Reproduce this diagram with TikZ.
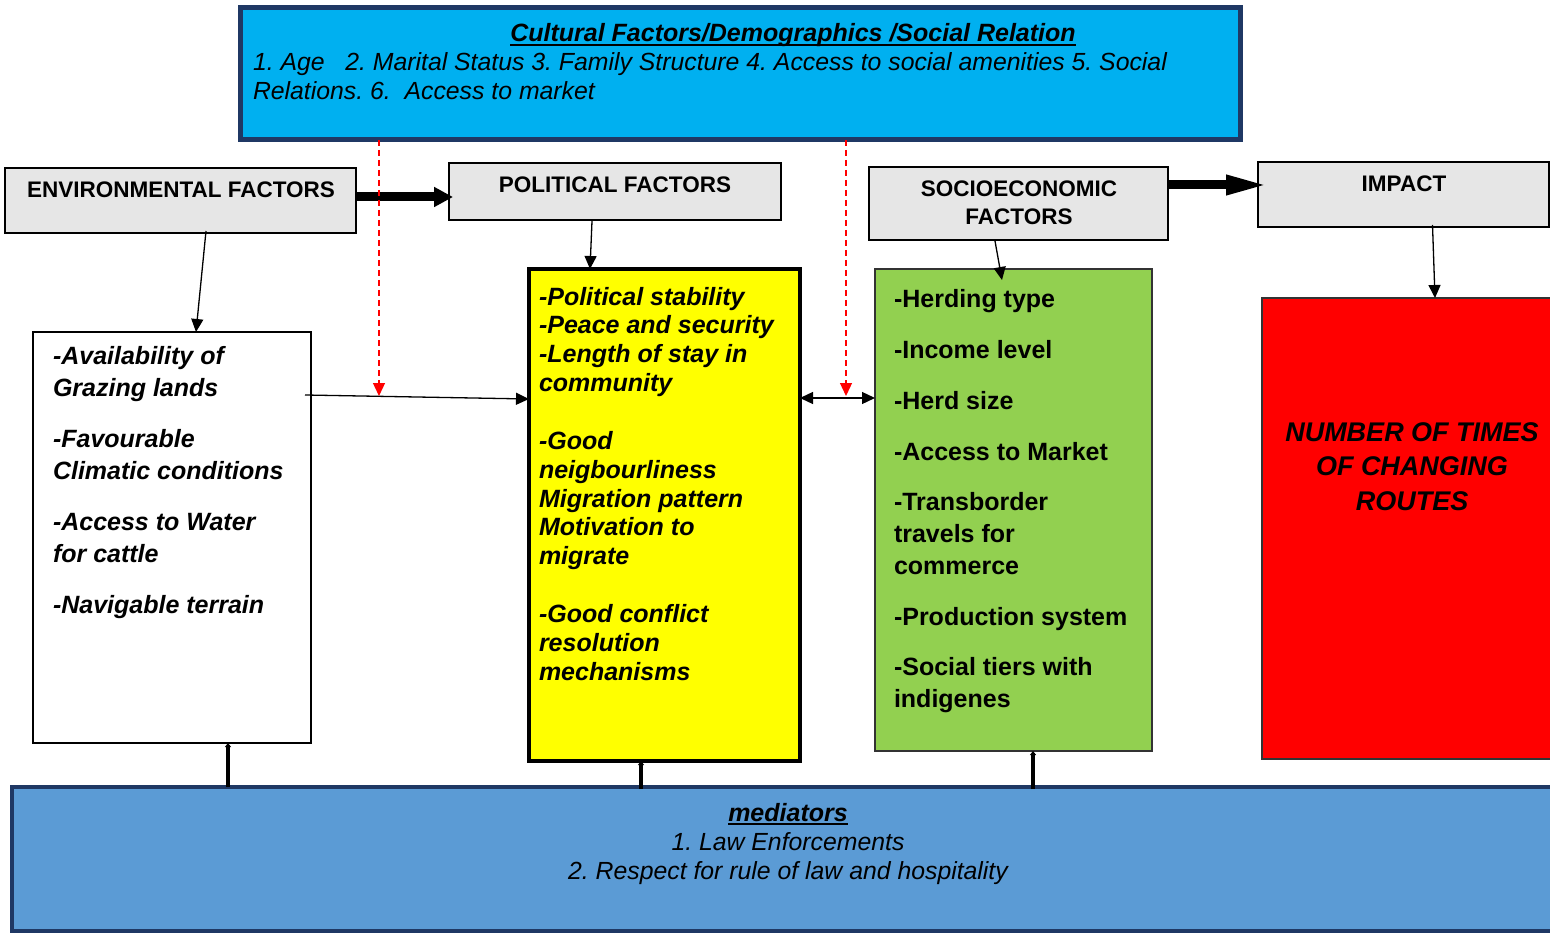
\documentclass[tikz,border=0pt]{standalone}
\usepackage{fontspec}
\setmainfont{Liberation Sans}
\usetikzlibrary{arrows.meta}
\definecolor{cyanbox}{HTML}{00B0F0}
\definecolor{navyline}{HTML}{1F3864}
\definecolor{bluebox}{HTML}{5B9BD5}
\definecolor{greenbox}{HTML}{92D050}
\definecolor{graybox}{HTML}{E6E6E6}
\definecolor{redbox}{HTML}{FF0000}
\definecolor{yellowbox}{HTML}{FFFF00}
\newcommand{\fsz}[2]{\fontsize{#1pt}{#2pt}\selectfont}
\frenchspacing
\begin{document}
\frenchspacing
\begin{tikzpicture}[x=1pt,y=-1pt,
  box/.style={draw, anchor=north west, inner sep=0pt, outer sep=0pt},
  hdr/.style={box, fill=graybox, line width=1.8pt},
  txt/.style={inner sep=0pt, outer sep=0pt, anchor=north west, align=left},
  hdrtxt/.style={inner sep=0pt, align=center, font=\fsz{22.5}{28}\bfseries},
  thinarrow/.style={line width=1.3pt, -{Triangle[length=13pt,width=12pt]}},
  dasharrow/.style={red, line width=1.3pt, dash pattern=on 6pt off 4pt, -{Triangle[length=13pt,width=12pt]}},
  bigarrow/.style={line width=9pt, -{Triangle[length=19pt,width=19pt]}},
  uparrow/.style={line width=4pt, -{Triangle[length=4pt,width=6pt]}}]
\clip (0,0) rectangle (1550,933);
\fill[white] (0,0) rectangle (1550,933);

% boxes
\node[box, fill=cyanbox, draw=navyline, line width=5pt, minimum width=1000pt, minimum height=132pt] (cult) at (240,8) {};
\node[hdr, minimum width=351pt, minimum height=65pt] (env) at (5,168) {};
\node[hdr, minimum width=332pt, minimum height=57pt] (pol) at (449,163) {};
\node[hdr, minimum width=299pt, minimum height=73pt] (socio) at (869,167) {};
\node[hdr, minimum width=291pt, minimum height=65pt] (impact) at (1258,162) {};
\node[box, fill=white, line width=1.6pt, minimum width=278pt, minimum height=411pt] (white) at (33,332) {};
\node[box, fill=yellowbox, line width=3.5pt, minimum width=271pt, minimum height=492pt] (yellow) at (529,269) {};
\node[box, fill=greenbox, line width=1.8pt, draw=black!80, minimum width=277pt, minimum height=482pt] (green) at (875,269) {};
\node[box, fill=redbox, line width=1.6pt, draw=black!80, minimum width=300pt, minimum height=461pt] (red) at (1262,298) {};
\node[box, fill=bluebox, draw=navyline, line width=4pt, minimum width=1600pt, minimum height=144pt] (med) at (12,787) {};

% texts
\node[anchor=base, inner sep=0pt, font=\fsz{25}{30}\bfseries\itshape] (ctitle) at (793,42) {Cultural Factors/Demographics /Social Relation};
\draw[line width=1.8pt] ([yshift=-3pt]ctitle.base west) -- ([yshift=-3pt]ctitle.base east);
\node[txt, font=\fsz{24.8}{29}\itshape] (clist) at (253,53) {1. Age\ \ \ 2. Marital Status 3. Family Structure 4. Access to social amenities 5. Social\\Relations. 6.\ \ Access to market};

\node[hdrtxt] (envl) at (181,190) {ENVIRONMENTAL FACTORS};
\node[hdrtxt] (poll) at (615,185) {POLITICAL FACTORS};
\node[hdrtxt] (sociol) at (1019,203) {SOCIOECONOMIC\\FACTORS};
\node[hdrtxt] (impactl) at (1404,184) {IMPACT};

\node[txt, font=\fsz{25}{32}\bfseries\itshape] (wtxt) at (53,346) {-Availability of\\Grazing lands\\[19pt]-Favourable\\Climatic conditions\\[19pt]-Access to Water\\for cattle\\[19pt]-Navigable terrain};
\node[txt, font=\fsz{25}{28.85}\bfseries\itshape] (ytxt) at (539,287) {-Political stability\\-Peace and security\\-Length of stay in\\community\\[28.85pt]-Good\\neigbourliness\\Migration pattern\\Motivation to\\migrate\\[28.85pt]-Good conflict\\resolution\\mechanisms};
\node[txt, font=\fsz{25}{32}\bfseries] (gtxt) at (894,289) {-Herding type\\[19pt]-Income level\\[19pt]-Herd size\\[19pt]-Access to Market\\[18pt]-Transborder\\travels for\\commerce\\[19pt]-Production system\\[18pt]-Social tiers with\\indigenes};
\node[anchor=north, inner sep=0pt, align=center, font=\fsz{27}{34.5}\bfseries\itshape] (rtxt) at (1412,422) {NUMBER OF TIMES\\OF CHANGING\\ROUTES};

\node[anchor=base, inner sep=0pt, font=\fsz{25}{30}\bfseries\itshape] (mtitle) at (788,821) {mediators};
\draw[line width=1.8pt] ([yshift=-3pt]mtitle.base west) -- ([yshift=-3pt]mtitle.base east);
\node[anchor=north, inner sep=0pt, align=center, font=\fsz{24.8}{29}\itshape] (mlist) at (788,832) {1. Law Enforcements\\2. Respect for rule of law and hospitality};

% connectors
\draw[bigarrow] ([yshift=3.5pt]env.east) -- ([xshift=4pt,yshift=-5.5pt]pol.west);
\draw[bigarrow, -{Triangle[length=43pt,width=18pt]}] ([yshift=18.5pt]socio.east) -- ([xshift=11pt,yshift=9.5pt]impact.west);

\draw[thinarrow] ([xshift=25.5pt,yshift=2pt]env.south) -- ([xshift=24pt]white.north);
\draw[thinarrow] ([xshift=-23pt,yshift=-1pt]pol.south) -- ([xshift=-74.5pt]yellow.north);
\draw[thinarrow] ([xshift=-23.5pt,yshift=-1pt]socio.south) -- ([xshift=-11.5pt,yshift=-11pt]green.north);
\draw[thinarrow] ([xshift=29pt,yshift=2pt]impact.south) -- ([xshift=23pt]red.north);

\draw[thinarrow] ([xshift=-6pt,yshift=-63pt]white.north east) -- ([yshift=-130pt]yellow.north west);
\draw[thinarrow, {Triangle[length=13pt,width=12pt]}-{Triangle[length=13pt,width=12pt]}] ([yshift=117pt]yellow.east) -- ([yshift=112pt]green.west);

\coordinate (d1) at (379,396);
\coordinate (d2) at (846,396);
\draw[dasharrow] ([xshift=139pt]cult.south west) -- (d1);
\draw[dasharrow] ([xshift=606pt]cult.south west) -- (d2);

\draw[uparrow] ([xshift=216pt]med.north west) -- ([xshift=195pt]white.south west);
\draw[uparrow] ([xshift=629pt,yshift=-2pt]med.north west) -- ([xshift=112pt]yellow.south west);
\draw[uparrow] ([xshift=1021pt,yshift=-2pt]med.north west) -- ([xshift=158pt]green.south west);
\end{tikzpicture}
\end{document}
